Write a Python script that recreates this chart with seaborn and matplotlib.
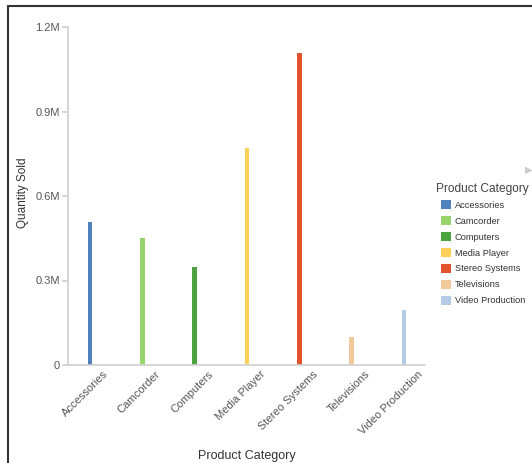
import matplotlib
matplotlib.use("Agg")
import matplotlib.pyplot as plt
from matplotlib.ticker import FuncFormatter
from matplotlib.patches import Patch
from matplotlib.lines import Line2D
import matplotlib.transforms as mtransforms
import seaborn as sns
import pandas as pd

categories = ["Accessories", "Camcorder", "Computers", "Media Player",
              "Stereo Systems", "Televisions", "Video Production"]
quantity = [506000, 450000, 348000, 769000, 1109000, 100000, 195000]
colors = ["#4f81bd", "#98d46c", "#4ca23e", "#ffd059", "#e2532b", "#f0c99b", "#b3cbe5"]
yticks = [0, 300000, 600000, 900000, 1200000]

df = pd.DataFrame({"Product Category": categories, "Quantity Sold": quantity})

sns.set_theme(style="white")
plt.rcParams['font.family'] = ['Liberation Sans', 'DejaVu Sans']

fig = plt.figure(figsize=(5.32, 4.63), dpi=100)
ax = fig.add_axes([68/532, 1-365/463, (425-68)/532, (365-27)/463])

sns.barplot(data=df, x="Product Category", y="Quantity Sold", hue="Product Category",
            palette=colors, width=0.085, dodge=False, legend=False, ax=ax,
            saturation=1, linewidth=0)

ax.set_xlim(-0.42, 6.4)
ax.set_ylim(0, 1200000)
ax.set_yticks(yticks)
ax.yaxis.set_major_formatter(FuncFormatter(lambda v, p: "0" if v == 0 else f"{v/1e6:.1f}M"))

for s in ["top", "right"]:
    ax.spines[s].set_visible(False)
for s in ["left", "bottom"]:
    ax.spines[s].set_color("#d0d0d0")
    ax.spines[s].set_linewidth(1.2)

ax.tick_params(axis="y", length=4, color="#d0d0d0", labelsize=8, labelcolor="#555555", pad=2, left=True)
ax.tick_params(axis="x", length=0, labelsize=8, labelcolor="#555555", pad=3)
offset = mtransforms.ScaledTranslation(13/100, 0, fig.dpi_scale_trans)
for lbl in ax.get_xticklabels():
    lbl.set_rotation(45)
    lbl.set_ha("right")
    lbl.set_rotation_mode("anchor")
    lbl.set_transform(lbl.get_transform() + offset)

ax.set_ylabel("Quantity Sold", fontsize=8.5, color="#333333")
ax.set_xlabel("Product Category", fontsize=9, color="#333333")
ax.yaxis.set_label_coords(-0.108, 0.51)
ax.xaxis.set_label_coords(0.5, -0.25)

fig.text(436/532, 1-189/463, "Product Category", fontsize=8.6, color="#444444",
         ha="left", va="center")
handles = [Patch(facecolor=c, edgecolor="none") for c in colors]
leg = fig.legend(handles, categories,
                 loc="upper left", bbox_to_anchor=(441/532, 1-200/463),
                 frameon=False, fontsize=6.7,
                 handlelength=1.1, handleheight=1.1, handletextpad=0.4,
                 labelspacing=0.68, borderpad=0, borderaxespad=0)
for t in leg.get_texts():
    t.set_color("#333333")

fig.text(529/532, 1-170/463, "\u25b6", fontsize=7, color="#cccccc",
         ha="center", va="center", family="DejaVu Sans")

fig.add_artist(Line2D([8/532, 1], [1-6/463, 1-6/463], color="#333333", linewidth=1.5))
fig.add_artist(Line2D([8/532, 8/532], [0, 1-6/463], color="#333333", linewidth=1.5))

fig.savefig("out.png", dpi=100)
